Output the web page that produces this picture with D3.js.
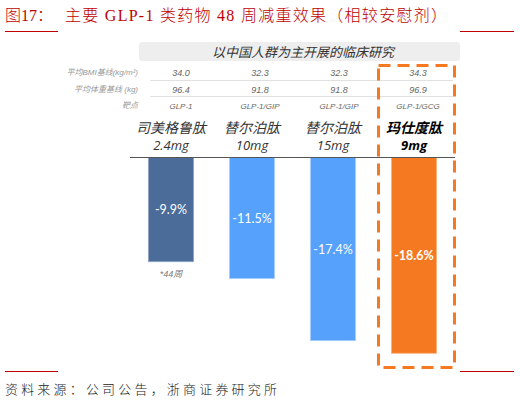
<!DOCTYPE html>
<html lang="zh">
<head>
<meta charset="UTF-8">
<title>GLP-1 48周减重效果</title>
<style>
  body { margin: 0; background: #fff; }
  text { font-family: "Liberation Sans", "Noto Sans CJK SC", sans-serif; }
</style>
</head>
<body>
<svg id="main" width="520" height="402"></svg>
<script src="https://cdn.jsdelivr.net/npm/d3@7/dist/d3.min.js"></script>
<script>
var drugs = ["司美格鲁肽", "替尔泊肽", "替尔泊肽", "玛仕度肽"];
var doses = ["2.4mg", "10mg", "15mg", "9mg"];
var weightLoss = [-9.9, -11.5, -17.4, -18.6];
var bmiBase = ["34.0", "32.3", "32.3", "34.3"];
var weightBase = ["96.4", "91.8", "91.8", "96.9"];
var targets = ["GLP-1", "GLP-1/GIP", "GLP-1/GIP", "GLP-1/GCG"];
var rowLabels = ["平均BMI基线(kg/m²)", "平均体重基线 (kg)", "靶点"];
var barColors = ["#4b6b98", "#55a1fb", "#55a1fb", "#f47920"];

var svg = d3.select("#main");
var idx = d3.range(drugs.length);

// title + red rules
svg.append("text").attr("x", 5).attr("y", 21)
    .attr("fill", "#c00000").style("font-size", "16px").style("font-weight", 300)
    .style("font-family", "'Liberation Serif', 'Noto Sans CJK SC', serif")
    .text("图17：");
svg.append("text").attr("x", 65).attr("y", 21)
    .attr("fill", "#c00000").style("font-size", "16px").style("font-weight", 300)
    .style("font-family", "'Liberation Serif', 'Noto Sans CJK SC', serif")
    .attr("textLength", 382).attr("lengthAdjust", "spacing")
    .text("主要 GLP-1 类药物 48 周减重效果（相较安慰剂）");

[31.5, 371.5].forEach(function(y) {
    svg.append("line").attr("x1", 5).attr("x2", 58).attr("y1", y).attr("y2", y)
        .attr("stroke", "#c00000").attr("stroke-width", 1);
    svg.append("line").attr("x1", 460).attr("x2", 514).attr("y1", y).attr("y2", y)
        .attr("stroke", "#c00000").attr("stroke-width", 1);
});

svg.append("text").attr("x", 5).attr("y", 394)
    .attr("fill", "#222").style("font-size", "13px").style("font-weight", 300)
    .style("font-family", "'Noto Sans CJK SC', serif")
    .attr("textLength", 272).attr("lengthAdjust", "spacing")
    .text("资料来源：公司公告，浙商证券研究所");

// banner
svg.append("rect").attr("x", 139).attr("y", 42).attr("width", 321).attr("height", 19)
    .attr("rx", 3).attr("fill", "#eeeeee");
svg.append("text").attr("x", 303).attr("y", 56.5).attr("text-anchor", "middle")
    .attr("fill", "#333").style("font-size", "13px").style("font-style", "italic")
    .style("font-family", "'Noto Sans CJK SC', sans-serif")
    .text("以中国人群为主开展的临床研究");

// table
var tx = d3.scalePoint().domain(idx).range([181, 418]);
var rowY = [72, 89, 105];
var rows = [bmiBase, weightBase, targets];

svg.selectAll(".rowlab").data(rowLabels).join("text")
    .attr("x", 138).attr("y", function(d, i) { return rowY[i] + 3; })
    .attr("text-anchor", "end").attr("fill", "#999")
    .style("font-size", "8px").style("font-style", "italic")
    .text(function(d) { return d; });

[80.5, 96.5].forEach(function(y) {
    svg.append("line").attr("x1", 150).attr("x2", 453).attr("y1", y).attr("y2", y)
        .attr("stroke", "#d9d9d9").attr("stroke-width", 0.8);
});

rows.forEach(function(r, ri) {
    svg.selectAll(".cell" + ri).data(r).join("text")
        .attr("x", function(d, i) { return tx(i); })
        .attr("y", rowY[ri] + 3.5)
        .attr("text-anchor", "middle").attr("fill", "#666")
        .style("font-size", ri == 2 ? "8px" : "9px").style("font-style", "italic")
        .text(function(d) { return d; });
});

// bars
var x = d3.scaleBand().domain(idx).range([130.5, 454.5])
    .paddingInner(0.444).paddingOuter(0.222);
var y = d3.scaleLinear().domain([0, -20]).range([157.5, 368]);

svg.selectAll(".drug").data(drugs).join("text")
    .attr("x", function(d, i) { return x(i) + x.bandwidth() / 2; })
    .attr("y", 133).attr("text-anchor", "middle")
    .attr("fill", function(d, i) { return i == 3 ? "#000" : "#333"; })
    .style("font-size", "14px").style("font-style", "italic")
    .style("font-weight", function(d, i) { return i == 3 ? "bold" : "normal"; })
    .style("font-family", "'Noto Sans CJK SC', sans-serif")
    .text(function(d) { return d; });

svg.selectAll(".dose").data(doses).join("text")
    .attr("x", function(d, i) { return x(i) + x.bandwidth() / 2; })
    .attr("y", 150).attr("text-anchor", "middle")
    .attr("fill", function(d, i) { return i == 3 ? "#000" : "#333"; })
    .style("font-size", "13px").style("font-style", "italic")
    .style("font-family", "'Open Sans', 'Liberation Sans', sans-serif")
    .style("font-weight", function(d, i) { return i == 3 ? "bold" : "normal"; })
    .text(function(d) { return d; });

svg.selectAll(".bar").data(weightLoss).join("rect")
    .attr("x", function(d, i) { return x(i); })
    .attr("y", y(0))
    .attr("width", x.bandwidth())
    .attr("height", function(d) { return y(d) - y(0); })
    .attr("fill", function(d, i) { return barColors[i]; })
    .attr("stroke", function(d, i) { return i == 0 ? "#8ea3c2" : (i == 3 ? "#f9b27a" : "#a6cdfb"); })
    .attr("stroke-width", 0.8);

svg.selectAll(".val").data(weightLoss).join("text")
    .attr("x", function(d, i) { return x(i) + x.bandwidth() / 2; })
    .attr("y", function(d) { return (y(0) + y(d)) / 2 + 4.5; })
    .attr("text-anchor", "middle").attr("fill", "#fff")
    .style("font-size", "12.5px")
    .style("font-family", "Lato, 'Liberation Sans', sans-serif")
    .style("font-weight", function(d, i) { return i == 3 ? "bold" : "normal"; })
    .text(function(d) { return d.toFixed(1) + "%"; });

svg.append("line").attr("x1", 130).attr("x2", 455)
    .attr("y1", y(0)).attr("y2", y(0))
    .attr("stroke", "#555").attr("stroke-width", 1);

svg.append("text")
    .attr("x", x(0) + x.bandwidth() / 2).attr("y", y(weightLoss[0]) + 15)
    .attr("text-anchor", "middle").attr("fill", "#777")
    .style("font-size", "9px").style("font-style", "italic")
    .text("*44周");

// dashed highlight around last column
svg.append("rect").attr("x", 378.5).attr("y", 65.5).attr("width", 76).attr("height", 302)
    .attr("fill", "none").attr("stroke", "#f47920").attr("stroke-width", 3)
    .attr("stroke-dasharray", "12,7");
</script>
</body>
</html>
